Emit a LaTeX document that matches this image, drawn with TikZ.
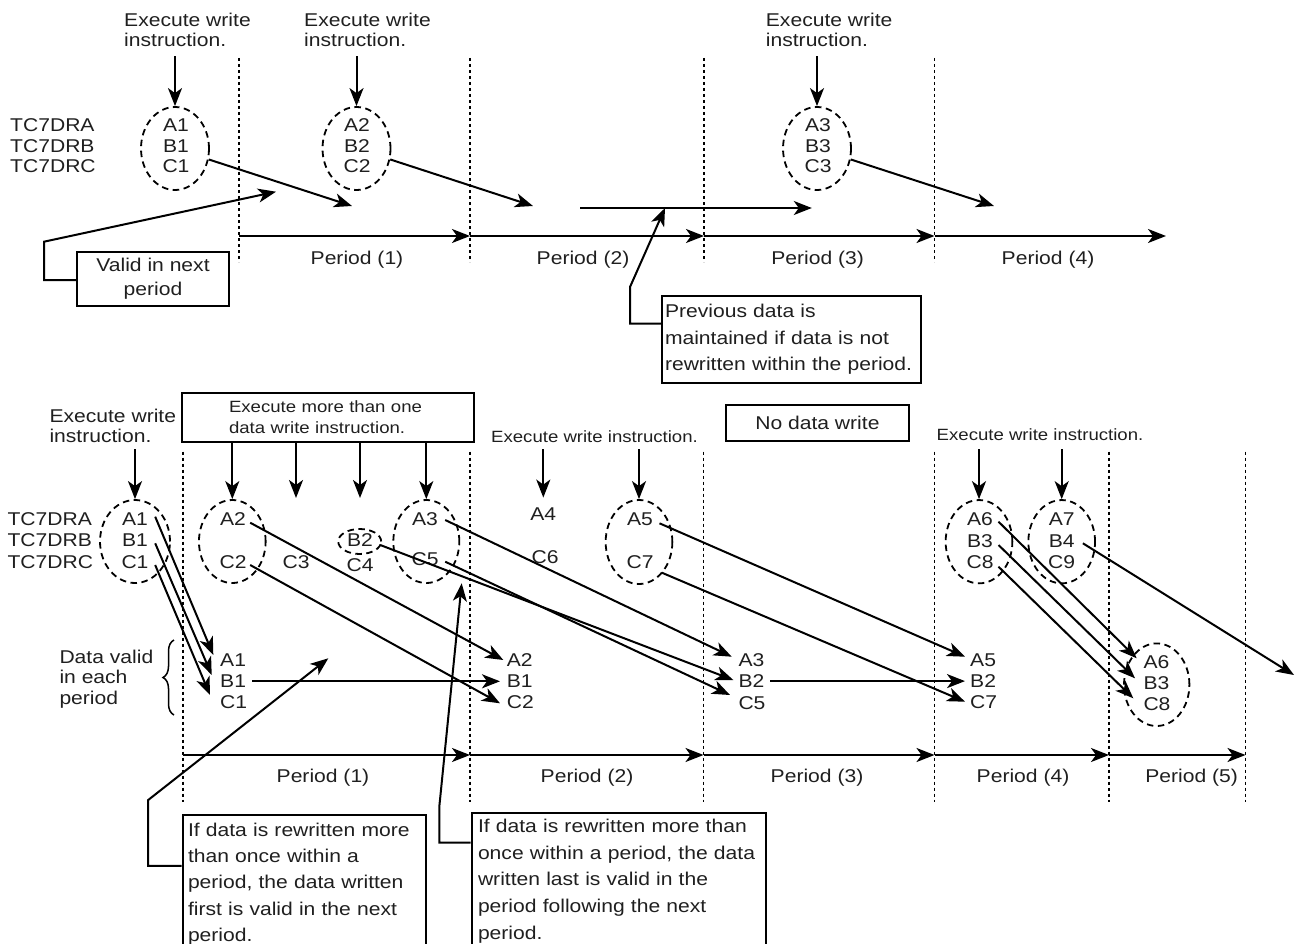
\documentclass[tikz,border=0pt]{standalone}
\usepackage{fontspec}
\setmainfont{Liberation Sans}[FakeStretch=1.14]
\usetikzlibrary{arrows.meta,calc,decorations.pathreplacing,shapes.geometric}
\begin{document}
\begin{tikzpicture}[x=1pt,y=-1pt,
  every node/.style={inner sep=0pt, text=black!88},
  big/.style={font=\fontsize{18.5}{20.5}\selectfont},
  small/.style={font=\fontsize{16.3}{21}\selectfont},
  lbl/.style={big, anchor=base},
  arr/.style={line width=2pt, -{Stealth[length=18pt,width=14pt,inset=5pt]}},
  vline/.style={line width=1.9pt, dash pattern=on 3.2pt off 2.8pt},
  ell/.style={ellipse, draw, line width=1.8pt, dash pattern=on 6.5pt off 4.5pt},
  box/.style={draw, line width=2pt},
]
\useasboundingbox (0,0) rectangle (1297,944);

%================ TOP =================
\node[lbl, anchor=base west] (tA) at (10,132) {TC7DRA};
\node[lbl, anchor=base west] (tB) at (10,153) {TC7DRB};
\node[lbl, anchor=base west] (tC) at (10,173) {TC7DRC};

\node[big, align=left, anchor=north west] (ex1) at (124,12.8) {Execute write\\instruction.};
\node[big, align=left, anchor=north west] (ex2) at (304,12.8) {Execute write\\instruction.};
\node[big, align=left, anchor=north west] (ex3) at (765.7,12.8) {Execute write\\instruction.};

\node[ell, minimum width=68pt, minimum height=83pt] (e1) at (175,148.5) {};
\node[ell, minimum width=68pt, minimum height=83pt] (e2) at (356.5,148.5) {};
\node[ell, minimum width=68pt, minimum height=83pt] (e3) at (817,148.5) {};

\node[lbl] (tA1) at (176,132) {A1};
\node[lbl] (tB1) at (176,153) {B1};
\node[lbl] (tC1) at (176,173) {C1};
\node[lbl] (tA2) at (357,132) {A2};
\node[lbl] (tB2) at (357,153) {B2};
\node[lbl] (tC2) at (357,173) {C2};
\node[lbl] (tA3) at (818,132) {A3};
\node[lbl] (tB3) at (818,153) {B3};
\node[lbl] (tC3) at (818,173) {C3};

\draw[arr] ($(ex1.south -| e1.north)+(0,9)$) -- (e1.north);
\draw[arr] ($(ex2.south -| e2.north)+(0,9)$) -- (e2.north);
\draw[arr] ($(ex3.south -| e3.north)+(0,9)$) -- (e3.north);

\foreach \x in {239,470,704,934.5} \draw[vline] (\x,58) -- (\x,262);

\coordinate (p0) at (239,236);
\coordinate (p1) at (470,236);
\coordinate (p2) at (704,236);
\coordinate (p3) at (934.5,236);
\coordinate (p4) at (1166,236);
\draw[arr] (p0) -- (p1);
\draw[arr] (p1) -- (p2);
\draw[arr] (p2) -- (p3);
\draw[arr] (p3) -- (p4);

\node[lbl] (P1) at (357,264.5) {Period (1)};
\node[lbl] (P2) at (583,264.5) {Period (2)};
\node[lbl] (P3) at (817.6,264.5) {Period (3)};
\node[lbl] (P4) at (1048,264.5) {Period (4)};

\coordinate (v1) at (352,206);
\coordinate (v2) at (533,206);
\coordinate (v3) at (994,206);
\draw[arr] (e1.-18) -- (v1);
\draw[arr] (e2.-18) -- (v2);
\draw[arr] (e3.-18) -- (v3);

\node[box, font=\fontsize{18.5}{24}\selectfont, align=center, minimum width=152pt, minimum height=54pt] (vb) at (153,279) {Valid in next\\period};
\coordinate (c1a) at (44,241.7);
\coordinate (c1t) at (276,191.7);
\draw[arr] ([shift={(0,1)}]vb.west) -| (c1a) -- (c1t);

\coordinate (pd0) at (580,208);
\coordinate (pd1) at (811.8,208);
\draw[arr] (pd0) -- (pd1);

\node[box, font=\fontsize{18.5}{26.5}\selectfont, align=left, text width=253pt, inner xsep=3pt, minimum height=87pt, anchor=north west] (pb) at (661,295) {Previous data is\\maintained if data is not\\rewritten within the period.};
\coordinate (c2a) at (630,287);
\coordinate (c2t) at (665,208);
\draw[arr] ([shift={(0,-15.8)}]pb.west) -| (c2a) -- (c2t);

%================ BOTTOM =================
\node[lbl, anchor=base west] (bTA) at (7.3,525) {TC7DRA};
\node[lbl, anchor=base west] (bTB) at (7.3,546.7) {TC7DRB};
\node[lbl, anchor=base west] (bTC) at (7.3,568) {TC7DRC};

\node[big, align=left, anchor=north west] (bex1) at (49.3,408.8) {Execute write\\instruction.};
\node[box, small, align=left, text width=197.4pt, inner xsep=47.3pt, minimum height=49pt, anchor=north west] (mbox) at (180.7,391.7) {Execute more than one\\data write instruction.};
\node[small, anchor=base] (bex2) at (594.5,442) {Execute write instruction.};
\node[box, big, minimum width=183.3pt, minimum height=35.7pt] (nd) at (817.4,422.9) {No data write};
\node[small, anchor=base] (bex3) at (1040,440) {Execute write instruction.};

% ellipses
\node[ell, minimum width=70pt, minimum height=83pt] (bE1) at (135,541.5) {};
\node[ell, minimum width=66.7pt, minimum height=83pt] (bE2) at (232.3,541.5) {};
\node[ell, minimum width=43pt, minimum height=25pt] (bE4) at (359.7,541.5) {};
\node[ell, minimum width=66pt, minimum height=83pt] (bE3) at (426.3,541.5) {};
\node[ell, minimum width=66.7pt, minimum height=84pt] (bE5) at (639,542) {};
\node[ell, minimum width=66.7pt, minimum height=83.3pt] (bE6) at (979,541.7) {};
\node[ell, minimum width=66.7pt, minimum height=83.3pt] (bE7) at (1061.7,541.7) {};
\node[ell, minimum width=65.4pt, minimum height=82.6pt] (rE) at (1156.7,684.7) {};

% written data
\node[lbl] (bA1) at (135,525) {A1};
\node[lbl] (bB1) at (135,546.7) {B1};
\node[lbl] (bC1) at (135,568) {C1};
\node[lbl] (bA2) at (233,525) {A2};
\node[lbl] (bC2) at (233,568) {C2};
\node[lbl] (bC3) at (296,568) {C3};
\node[lbl] (bB2) at (360,546.7) {B2};
\node[lbl] (bC4) at (360,571.7) {C4};
\node[lbl] (bA3) at (425,525) {A3};
\node[lbl] (bC5) at (425,565) {C5};
\node[lbl] (bA4) at (543.3,520) {A4};
\node[lbl] (bC6) at (545,563.3) {C6};
\node[lbl] (bA5) at (640,525) {A5};
\node[lbl] (bC7) at (640,568.3) {C7};
\node[lbl] (bA6) at (980,525) {A6};
\node[lbl] (bB3) at (980,547) {B3};
\node[lbl] (bC8) at (980,568.3) {C8};
\node[lbl] (bA7) at (1061.7,525) {A7};
\node[lbl] (bB4) at (1061.7,547) {B4};
\node[lbl] (bC9) at (1061.7,568.3) {C9};

% valid data
\node[lbl, anchor=base west] (rA1) at (220,666.7) {A1};
\node[lbl, anchor=base west] (rB1) at (220,687.7) {B1};
\node[lbl, anchor=base west] (rC1) at (220,708.3) {C1};
\node[lbl, anchor=base west] (rA2) at (506.7,666) {A2};
\node[lbl, anchor=base west] (rB1b) at (506.7,687.7) {B1};
\node[lbl, anchor=base west] (rC2) at (506.7,708.3) {C2};
\node[lbl, anchor=base west] (rA3) at (738.3,666) {A3};
\node[lbl, anchor=base west] (rB2) at (738.3,687.7) {B2};
\node[lbl, anchor=base west] (rC5) at (738.3,709) {C5};
\node[lbl, anchor=base west] (rA5) at (970,666) {A5};
\node[lbl, anchor=base west] (rB2b) at (970,687.7) {B2};
\node[lbl, anchor=base west] (rC7) at (970,708.3) {C7};
\node[lbl, anchor=base west] (rA6) at (1143.3,668.3) {A6};
\node[lbl, anchor=base west] (rB3) at (1143.3,689.3) {B3};
\node[lbl, anchor=base west] (rC8) at (1143.3,710.7) {C8};

% instruction arrows
\draw[arr] ($(bex1.south -| bE1.north)+(0,6)$) -- (bE1.north);
\coordinate (m2) at (296,498);
\coordinate (m3) at (360,498);
\draw[arr] (mbox.south -| bE2.north) -- (bE2.north);
\draw[arr] (mbox.south -| m2) -- (m2);
\draw[arr] (mbox.south -| m3) -- (m3);
\draw[arr] (mbox.south -| bE3.north) -- (bE3.north);
\draw[arr] ($(bex2.base -| bA4.north)+(0,7.3)$) -- ([shift={(0,-9.5)}]bA4.north);
\draw[arr] ($(bex2.base -| bE5.north)+(0,7.3)$) -- (bE5.north);
\draw[arr] ($(bex3.base -| bE6.north)+(0,9.3)$) -- (bE6.north);
\draw[arr] ($(bex3.base -| bE7.north)+(0,9.3)$) -- (bE7.north);

% dotted period borders and timeline
\foreach \x in {182.7,470,703.5,934.5,1109,1245.5} \draw[vline] (\x,451.7) -- (\x,802);
\coordinate (q0) at (182.7,755);
\coordinate (q1) at (470,755);
\coordinate (q2) at (703.5,755);
\coordinate (q3) at (934.5,755);
\coordinate (q4) at (1109,755);
\coordinate (q5) at (1245.5,755);
\draw[arr] (q0) -- (q1);
\draw[arr] (q1) -- (q2);
\draw[arr] (q2) -- (q3);
\draw[arr] (q3) -- (q4);
\draw[arr] (q4) -- (q5);

\node[lbl] (Q1) at (323,782) {Period (1)};
\node[lbl] (Q2) at (587,782) {Period (2)};
\node[lbl] (Q3) at (817,782) {Period (3)};
\node[lbl] (Q4) at (1023,782) {Period (4)};
\node[lbl] (Q5) at (1191.7,782) {Period (5)};

% brace and label
\draw[line width=1.5pt, decorate, decoration={brace, amplitude=11pt}] (174,715) -- (174,640);
\node[font=\fontsize{18.5}{20.8}\selectfont, align=left, anchor=north west] (dv) at (59.3,649.5) {Data valid\\in each\\period};

% data transfer arrows
\draw[arr] ([shift={(7.1,-8.3)}]bA1.base east) -- ([shift={(-6.7,-11.7)}]rA1.base west);
\draw[arr] ([shift={(7.1,-3.4)}]bB1.base east) -- ([shift={(-8.3,-12.7)}]rB1.base west);
\draw[arr] ([shift={(6.5,-3)}]bC1.base east) -- ([shift={(-10,-13.3)}]rC1.base west);
\draw[arr] ([shift={(4.1,-2.3)}]bA2.base east) -- ([shift={(-3.4,-6)}]rA2.base west);
\draw[arr] ([shift={(3.5,-3)}]bC2.base east) -- ([shift={(-6.7,-5)}]rC2.base west);
\draw[arr] ([shift={(5.9,-6.4)}]rB1.base east) -- ([shift={(-6.7,-6.4)}]rB1b.base west);
\draw[arr] ([shift={(7.1,-5)}]bA3.base east) -- ([shift={(-6.6,-9.3)}]rA3.base west);
\draw[arr] ([shift={(7.1,-1.7)}]bB2.base east) -- ([shift={(-5,-7.7)}]rB2.base west);
\draw[arr] ([shift={(6.5,-3.3)}]bC5.base east) -- ([shift={(-8.3,-14)}]rC5.base west);
\draw[arr] ([shift={(5.9,-6.6)}]rB2.base east) -- ([shift={(-5,-6.6)}]rB2b.base west);
\draw[arr] ([shift={(6.4,-1.7)}]bA5.base east) -- ([shift={(-5,-9.3)}]rA5.base west);
\draw[arr] ([shift={(8.2,4.4)}]bC7.base east) -- ([shift={(-5,-6.6)}]rC7.base west);
\draw[arr] ([shift={(5.4,-3.3)}]bA6.base east) -- ([shift={(-6.6,-10)}]rA6.base west);
\draw[arr] ([shift={(5.4,-2)}]bB3.base east) -- ([shift={(-8.3,-11)}]rB3.base west);
\draw[arr] ([shift={(4.8,-1.6)}]bC8.base east) -- ([shift={(-10,-12.4)}]rC8.base west);
\coordinate (b4t) at (1294,675);
\draw[arr] ([shift={(8.1,-3.7)}]bB4.base east) -- (b4t);

% bottom notes
\node[box, font=\fontsize{18.5}{26.3}\selectfont, align=left, text width=232.7pt, inner xsep=5.3pt, minimum height=137.3pt, anchor=north west] (bx1) at (181.7,814.3) {If data is rewritten more\\than once within a\\period, the data written\\first is valid in the next\\period.};
\node[box, font=\fontsize{18.5}{26.65}\selectfont, align=left, text width=281.5pt, inner xsep=6.5pt, minimum height=137pt, anchor=north west] (bx2) at (470.5,811.7) {If data is rewritten more than\\once within a period, the data\\written last is valid in the\\period following the next\\period.};
\coordinate (c3a) at (148.2,800);
\coordinate (c3t) at (328.3,658.3);
\draw[arr] ([shift={(0,-18)}]bx1.west) -| (c3a) -- (c3t);
\coordinate (c4a) at (439.3,806.7);
\coordinate (c4t) at (461.7,583.3);
\draw[arr] ([shift={(0,-38.5)}]bx2.west) -| (c4a) -- (c4t);
\end{tikzpicture}
\end{document}
